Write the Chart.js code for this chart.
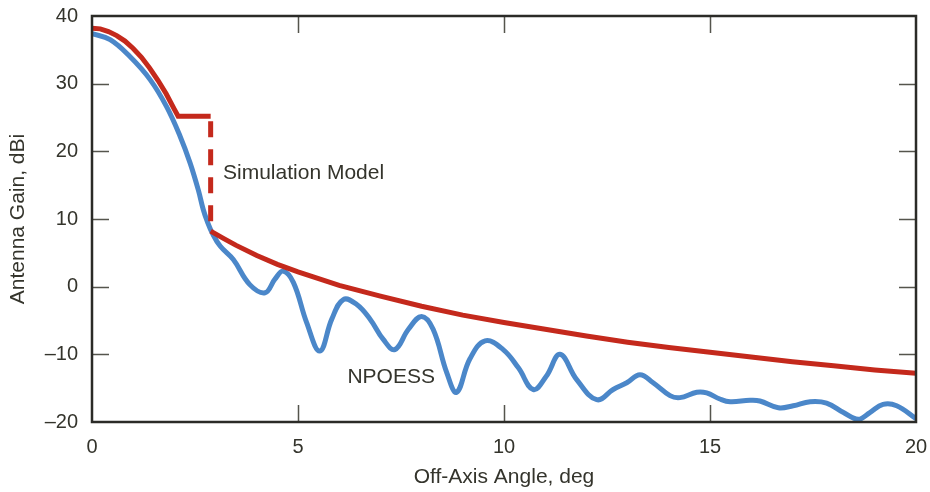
<!DOCTYPE html>
<html>
<head>
<meta charset="utf-8">
<script src="https://cdn.jsdelivr.net/npm/chart.js@4/dist/chart.umd.min.js"></script>
<style>
  body { margin: 0; background: #fff; }
  canvas { display: block; }
</style>
</head>
<body>
<canvas id="gainChart" width="930" height="492"></canvas>
<script>
// Simulation model (red): main lobe, flat step, drop, then far sidelobe envelope
const redAngle = [0, 0.2, 0.4, 0.6, 0.8, 1.0, 1.2, 1.4, 1.6, 1.8, 2.0, 2.09, 2.88, 2.88, 3.2, 3.5, 4, 4.5, 5, 6, 7, 8, 9, 10, 11, 12, 13, 14, 15, 16, 17, 18, 19, 20];
const redGain = [38.2, 38.1, 37.7, 37.1, 36.3, 35.2, 33.9, 32.3, 30.5, 28.5, 26.2, 25.2, 25.2, 8.2, 7.1, 6.1, 4.6, 3.3, 2.2, 0.2, -1.4, -2.9, -4.2, -5.3, -6.3, -7.3, -8.2, -9.0, -9.7, -10.4, -11.1, -11.7, -12.3, -12.8];

// NPOESS measured pattern (blue)
const blueAngle = [0, 0.44, 0.92, 1.41, 1.81, 2.14, 2.38, 2.58, 2.7, 2.8, 2.92, 3.11, 3.43, 3.83, 4.2, 4.44, 4.64, 4.89, 5.21, 5.53, 5.82, 6.1, 6.42, 6.75, 7.07, 7.35, 7.68, 8.0, 8.28, 8.61, 8.85, 9.17, 9.54, 9.98, 10.35, 10.71, 11.03, 11.36, 11.76, 12.25, 12.65, 12.98, 13.3, 13.62, 14.03, 14.27, 14.68, 14.92, 15.24, 15.49, 15.97, 16.21, 16.66, 17.02, 17.43, 17.83, 18.24, 18.6, 18.88, 19.2, 19.53, 20];
const blueGain = [37.4, 36.5, 34.0, 30.6, 26.6, 22.2, 18.3, 14.3, 11.4, 9.6, 7.9, 6.0, 4.0, 0.3, -0.9, 1.1, 2.3, 0.6, -5.3, -9.5, -4.8, -1.9, -2.6, -4.8, -7.8, -9.3, -6.3, -4.4, -6.3, -12.7, -15.6, -10.7, -8.0, -9.3, -12.0, -15.2, -13.2, -10.0, -13.7, -16.7, -15.2, -14.2, -13.0, -14.2, -16.1, -16.4, -15.6, -15.7, -16.6, -17.0, -16.8, -16.9, -17.9, -17.6, -17.0, -17.2, -18.6, -19.6, -18.6, -17.4, -17.6, -19.5];

const xTicks = [0, 5, 10, 15, 20];
const yTicks = [-20, -10, 0, 10, 20, 30, 40];

const notes = [
    { text: 'Simulation Model', angle: 3.18, gain: 16.8 },
    { text: 'NPOESS', angle: 6.2, gain: -13.4 }
];

const TEXT = '#34342c';
const RED = '#c4291c';
const BLUE = '#4b87c9';
const FONT = '"Liberation Sans", Arial, sans-serif';

function toPoints(xs, ys) {
    return xs.map((x, i) => ({ x: x, y: ys[i] }));
}

// the model's vertical drop (same angle twice) is drawn dashed,
// so split the red series there into solid / dashed / solid pieces
const redPoints = toPoints(redAngle, redGain);
const dropAt = redAngle.findIndex((a, i) => i > 0 && a === redAngle[i - 1]);
const redPieces = [
    { data: redPoints.slice(0, dropAt), dash: [] },
    { data: redPoints.slice(dropAt - 1, dropAt + 1), dash: [16, 12], offset: 23 },
    { data: redPoints.slice(dropAt), dash: [] }
];

const frameAndTicks = {
    id: 'frameAndTicks',
    afterDatasetsDraw(chart) {
        const { ctx, chartArea: a, scales: { x, y } } = chart;
        const len = 17;
        ctx.save();

        // inward tick marks on all four sides
        ctx.strokeStyle = '#55554d';
        ctx.lineWidth = 1.5;
        ctx.beginPath();
        xTicks.slice(1, -1).forEach(v => {
            const px = Math.round(x.getPixelForValue(v)) + 0.5;
            ctx.moveTo(px, a.bottom); ctx.lineTo(px, a.bottom - len);
            ctx.moveTo(px, a.top); ctx.lineTo(px, a.top + len);
        });
        yTicks.slice(1, -1).forEach(v => {
            const py = Math.round(y.getPixelForValue(v)) + 0.5;
            ctx.moveTo(a.left, py); ctx.lineTo(a.left + len, py);
            ctx.moveTo(a.right, py); ctx.lineTo(a.right - len, py);
        });
        ctx.stroke();

        // frame
        ctx.strokeStyle = '#2b2b27';
        ctx.lineWidth = 2.5;
        ctx.strokeRect(a.left, a.top, a.right - a.left, a.bottom - a.top);

        // curve labels
        ctx.fillStyle = TEXT;
        ctx.font = '21px ' + FONT;
        ctx.textBaseline = 'middle';
        ctx.textAlign = 'left';
        notes.forEach(n => {
            ctx.fillText(n.text, x.getPixelForValue(n.angle), y.getPixelForValue(n.gain));
        });
        ctx.restore();
    }
};

const ctx = document.getElementById('gainChart').getContext('2d');

const datasets = redPieces.map(p => ({
    label: 'Simulation Model',
    data: p.data,
    borderColor: RED,
    borderWidth: 5,
    borderDash: p.dash,
    borderDashOffset: p.offset || 0,
    pointRadius: 0,
    tension: 0,
    order: 0
}));

datasets.push({
    label: 'NPOESS',
    data: toPoints(blueAngle, blueGain),
    borderColor: BLUE,
    borderWidth: 5,
    pointRadius: 0,
    tension: 0.4,
    order: 1
});

new Chart(ctx, {
    type: 'line',
    data: { datasets: datasets },
    options: {
        responsive: false,
        devicePixelRatio: 1,
        animation: false,
        layout: { padding: { top: 16, right: 14, left: 0, bottom: 0 } },
        plugins: {
            legend: { display: false },
            tooltip: { enabled: false }
        },
        scales: {
            x: {
                type: 'linear',
                min: 0,
                max: 20,
                afterBuildTicks: s => { s.ticks = xTicks.map(v => ({ value: v })); },
                afterFit: s => {
                    s.height = 70;
                    s.paddingLeft = 0;
                    s.paddingRight = 0;
                },
                grid: { display: false, drawTicks: false },
                border: { display: false },
                ticks: {
                    color: TEXT,
                    padding: 13,
                    maxRotation: 0,
                    autoSkip: false,
                    font: { family: FONT, size: 20 }
                },
                title: {
                    display: true,
                    text: 'Off-Axis Angle, deg',
                    color: TEXT,
                    padding: { top: 0, bottom: 2 },
                    font: { family: FONT, size: 21 }
                }
            },
            y: {
                type: 'linear',
                min: -20,
                max: 40,
                afterBuildTicks: s => { s.ticks = yTicks.map(v => ({ value: v })); },
                afterFit: s => {
                    s.width = 92;
                    s.paddingTop = 0;
                    s.paddingBottom = 0;
                },
                grid: { display: false, drawTicks: false },
                border: { display: false },
                ticks: {
                    color: TEXT,
                    padding: 14,
                    autoSkip: false,
                    font: { family: FONT, size: 20 },
                    callback: v => String(v).replace('-', '\u2013')
                },
                title: {
                    display: true,
                    text: 'Antenna Gain, dBi',
                    color: TEXT,
                    padding: { top: 6, bottom: 0 },
                    font: { family: FONT, size: 21 }
                }
            }
        }
    },
    plugins: [frameAndTicks]
});
</script>
</body>
</html>
